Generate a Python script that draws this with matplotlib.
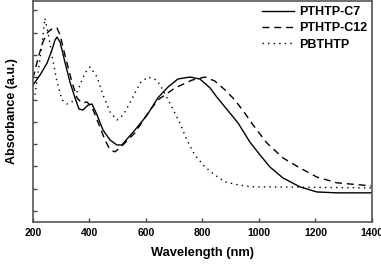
import matplotlib
matplotlib.use('Agg')
import matplotlib.pyplot as plt

plt.rcParams['font.family'] = ['Liberation Sans', 'DejaVu Sans']
plt.rcParams['font.weight'] = 'bold'

# PTHTP-C7 (solid)
c7_nm = [200, 225, 250, 267, 278, 285, 296, 313, 331, 349, 363, 377, 395, 409,
         427, 448, 473, 497, 515, 536, 561, 604, 642, 678, 713, 756, 791, 827,
         851, 880, 926, 968, 1004, 1039, 1085, 1145, 1205, 1276, 1400]
c7_abs = [0.565, 0.610, 0.664, 0.722, 0.767, 0.780, 0.758, 0.668, 0.578, 0.507,
          0.457, 0.453, 0.475, 0.480, 0.430, 0.363, 0.318, 0.296, 0.296, 0.327,
          0.363, 0.430, 0.507, 0.556, 0.592, 0.601, 0.592, 0.552, 0.511, 0.466,
          0.395, 0.309, 0.251, 0.197, 0.148, 0.108, 0.085, 0.081, 0.081]

# PTHTP-C12 (dashed)
c12_nm = [200, 218, 235, 253, 271, 285, 296, 313, 338, 356, 373, 391, 409, 430,
          455, 473, 490, 508, 561, 607, 642, 703, 763, 809, 844, 880, 915, 950,
          979, 1028, 1085, 1145, 1205, 1276, 1400]
c12_abs = [0.595, 0.686, 0.758, 0.803, 0.821, 0.821, 0.789, 0.700, 0.578, 0.507,
           0.484, 0.489, 0.466, 0.399, 0.318, 0.274, 0.265, 0.283, 0.350, 0.439,
           0.498, 0.552, 0.587, 0.601, 0.583, 0.543, 0.498, 0.439, 0.386, 0.305,
           0.238, 0.193, 0.152, 0.126, 0.112]

# PBTHTP (dotted)
pb_nm = [200, 207, 218, 232, 242, 253, 267, 285, 303, 320, 338, 359, 384, 402,
         427, 448, 473, 497, 519, 543, 579, 607, 639, 660, 692, 720, 745, 773,
         809, 844, 880, 926, 975, 1100, 1400]
pb_abs = [0.498, 0.520, 0.623, 0.744, 0.865, 0.803, 0.700, 0.578, 0.498, 0.480,
          0.489, 0.543, 0.619, 0.646, 0.601, 0.520, 0.444, 0.408, 0.430, 0.484,
          0.574, 0.601, 0.587, 0.543, 0.466, 0.395, 0.318, 0.251, 0.197, 0.161,
          0.130, 0.117, 0.108, 0.107, 0.103]

fig = plt.figure(figsize=(3.81, 2.64), dpi=100)
ax = fig.add_axes([0.0866, 0.159, 0.8894, 0.837])

ax.plot(c7_nm, c7_abs, color='black', lw=1.0, ls='-', label='PTHTP-C7')
ax.plot(c12_nm, c12_abs, color='black', lw=1.0, ls=(0, (5, 3.5)), label='PTHTP-C12')
ax.plot(pb_nm, pb_abs, color='black', lw=1.0, ls=(0, (1, 3)), label='PBTHTP')

ax.set_xlim(200, 1400)
ax.set_ylim(-0.05, 0.942)
ax.set_xticks([200, 400, 600, 800, 1000, 1200, 1400])
ax.set_yticks([0, 0.1, 0.2, 0.3, 0.4, 0.5, 0.6, 0.7, 0.8, 0.9])
ax.set_yticklabels([])
ax.tick_params(direction='in', length=3, width=1, colors='#444444',
               labelsize=7.5, labelcolor='black', pad=4)
for s in ax.spines.values():
    s.set_color('#555555')
    s.set_linewidth(1.2)

ax.set_xlabel('Wavelength (nm)', fontsize=9.3, fontweight='bold', labelpad=7)
ax.set_ylabel('Absorbance (a.u.)', fontsize=9, fontweight='bold', labelpad=7)

ax.legend(loc='upper right', frameon=False, fontsize=9, handlelength=2.5,
          handletextpad=0.4, labelspacing=0.35, borderaxespad=0.0)

plt.savefig('out.png', dpi=100)
